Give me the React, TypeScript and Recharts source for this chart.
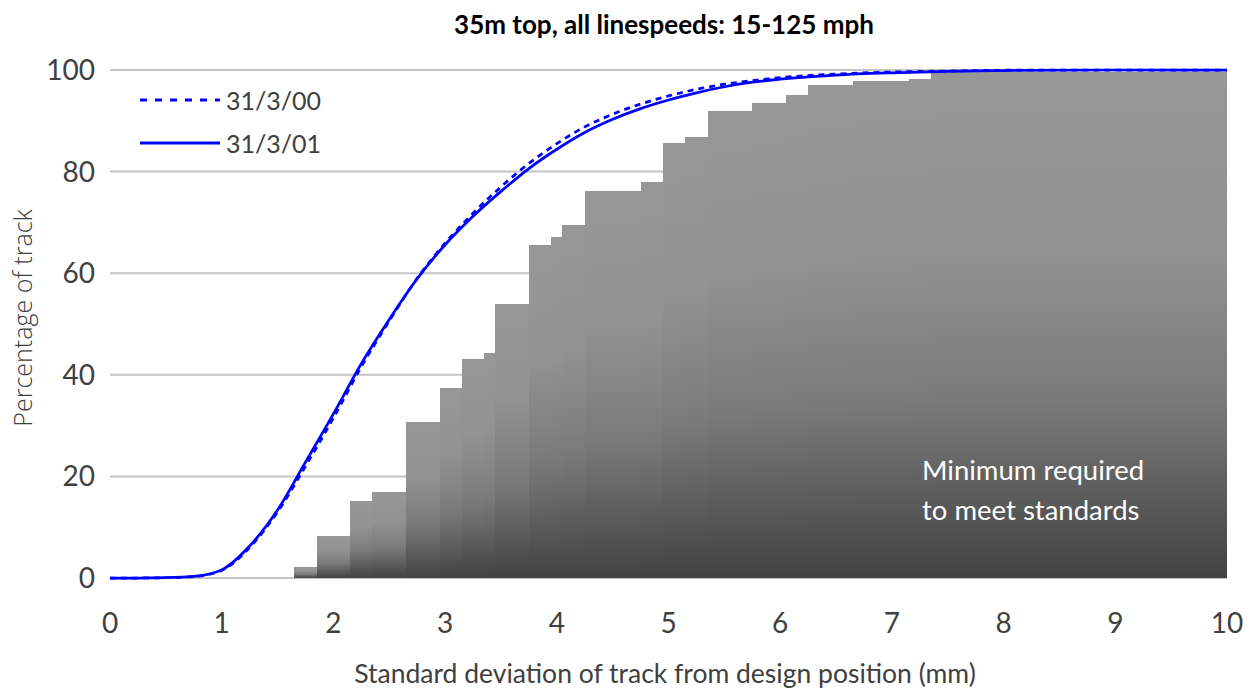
import React from 'react';
import { ComposedChart, Line, XAxis, YAxis, CartesianGrid, ReferenceArea, Legend } from 'recharts';

// cumulative share of track within a given standard deviation (mm)
const curveX = [0, 0.25, 0.5, 0.75, 1, 1.25, 1.5, 1.75, 2, 2.25, 2.5, 2.75, 3, 3.25, 3.5, 3.75, 4, 4.25, 4.5, 4.75, 5, 5.25, 5.5, 5.75, 6, 6.5, 7, 7.5, 8, 9, 10];
const track00 = [0, 0, 0.05, 0.3, 1.5, 6, 13, 22, 31.5, 41.6, 50.6, 59, 65.9, 71.8, 77, 81.6, 85.5, 88.8, 91.3, 93.3, 94.9, 96.2, 97.2, 97.9, 98.5, 99.2, 99.6, 99.8, 99.95, 100, 100];
const track01 = [0, 0, 0.05, 0.3, 1.6, 6.3, 13.4, 22.8, 32.3, 42.2, 50.9, 58.9, 65.6, 71.2, 76.1, 80.6, 84.4, 87.7, 90.3, 92.4, 94.1, 95.5, 96.7, 97.6, 98.2, 99, 99.45, 99.75, 99.9, 100, 100];

// minimum standard: stepped bands
const stepFrom = [1.65, 1.85, 2.15, 2.35, 2.65, 2.95, 3.15, 3.35, 3.45, 3.75, 3.95, 4.05, 4.25, 4.75, 4.95, 5.15, 5.35, 5.75, 6.05, 6.25, 6.65, 7.15, 7.35];
const stepTo = [1.85, 2.15, 2.35, 2.65, 2.95, 3.15, 3.35, 3.45, 3.75, 3.95, 4.05, 4.25, 4.75, 4.95, 5.15, 5.35, 5.75, 6.05, 6.25, 6.65, 7.15, 7.35, 10];
const stepPct = [2.1, 8.3, 15.2, 16.9, 30.7, 37.4, 43.1, 44.3, 53.9, 65.5, 67.2, 69.5, 76.2, 77.9, 85.6, 86.8, 91.9, 93.6, 95.0, 97.0, 97.9, 98.3, 99.7];

const xTicks = [0, 1, 2, 3, 4, 5, 6, 7, 8, 9, 10];
const yTicks = [0, 20, 40, 60, 80, 100];

const lineData = curveX.map((x, i) => ({ x, d00: track00[i], d01: track01[i] }));

const gill = "Lato, 'Open Sans', sans-serif";
const textGrey = '#404040';
const blue = '#0000ff';

const LegendKey = () => (
  <div style={{ fontFamily: gill, fontSize: 25, color: textGrey }}>
    <div style={{ display: 'flex', alignItems: 'center', height: 43 }}>
      <svg width={88} height={6}>
        <line x1={2} x2={82} y1={3} y2={3} stroke={blue} strokeWidth={3} strokeDasharray="7 8" />
      </svg>
      <span>31/3/00</span>
    </div>
    <div style={{ display: 'flex', alignItems: 'center', height: 43 }}>
      <svg width={88} height={6}>
        <line x1={2} x2={82} y1={3} y2={3} stroke={blue} strokeWidth={3} />
      </svg>
      <span>31/3/01</span>
    </div>
  </div>
);

export default function App() {
  return (
    <div style={{ position: 'absolute', left: 0, top: 0, width: 1258, height: 693, background: '#fff' }}>
      <div style={{ position: 'absolute', top: 8, width: 1258, left: 35, textAlign: 'center', fontFamily: gill, fontWeight: 700, fontSize: 26, color: '#000' }}>
        35m top, all linespeeds: 15-125 mph
      </div>
      <ComposedChart width={1258} height={693} data={lineData} margin={{ top: 70, right: 31, bottom: 0, left: 0 }}>
        <defs>
          <linearGradient id="barShade" x1="0" y1="0" x2="0" y2="1">
            <stop offset="0" stopColor="#979797" />
            <stop offset="0.35" stopColor="#929292" />
            <stop offset="0.65" stopColor="#7a7a7a" />
            <stop offset="1" stopColor="#424242" />
          </linearGradient>
        </defs>
        <CartesianGrid vertical={false} stroke="#c4c4c4" strokeWidth={2} />
        <XAxis
          type="number"
          dataKey="x"
          domain={[0, 10]}
          ticks={xTicks}
          axisLine={false}
          tickLine={false}
          tickSize={0}
          tickMargin={35}
          height={115}
          tick={{ fontFamily: gill, fontSize: 28, fill: textGrey }}
        />
        <YAxis
          type="number"
          domain={[0, 100]}
          ticks={yTicks}
          axisLine={false}
          tickLine={false}
          tickSize={0}
          tickMargin={15}
          width={110}
          tick={{ fontFamily: gill, fontSize: 28, fill: textGrey }}
        />
        {stepFrom.map((x1, i) => (
          <ReferenceArea
            key={x1}
            x1={x1}
            x2={stepTo[i]}
            y1={0}
            y2={stepPct[i]}
            fill="url(#barShade)"
            fillOpacity={1}
            stroke="none"
            shapeRendering="crispEdges"
          />
        ))}
        <Line type="monotone" dataKey="d00" stroke={blue} strokeWidth={2.75} strokeDasharray="6 5" dot={false} isAnimationActive={false} />
        <Line type="monotone" dataKey="d01" stroke={blue} strokeWidth={2.75} dot={false} isAnimationActive={false} />
        <Legend
          layout="vertical"
          align="center"
          verticalAlign="middle"
          content={() => <LegendKey />}
          wrapperStyle={{ left: 138, top: 78, width: 260 }}
        />
      </ComposedChart>
      <div style={{ position: 'absolute', left: 22, top: 318, transform: 'translate(-50%, -50%) rotate(-90deg)', whiteSpace: 'nowrap', fontFamily: "'Open Sans', sans-serif", fontWeight: 300, fontSize: 25, color: textGrey }}>
        Percentage of track
      </div>
      <div style={{ position: 'absolute', left: 0, width: 1330, top: 657, textAlign: 'center', fontFamily: gill, fontSize: 26.5, color: textGrey }}>
        Standard deviation of track from design position (mm)
      </div>
      <div style={{ position: 'absolute', left: 922, top: 450, fontFamily: gill, fontSize: 27.5, lineHeight: '40px', color: '#fff' }}>
        Minimum required
        <br />
        to meet standards
      </div>
    </div>
  );
}
